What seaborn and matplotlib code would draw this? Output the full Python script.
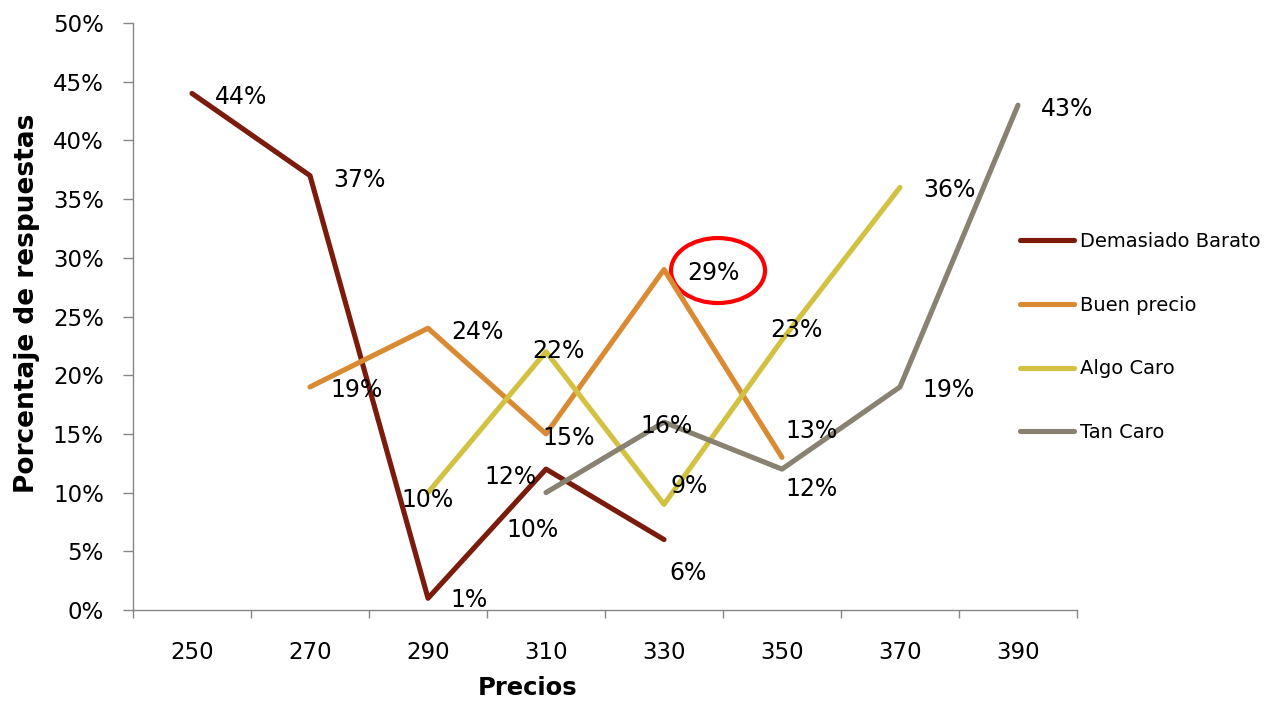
import numpy as np
import pandas as pd
import matplotlib
matplotlib.use("Agg")
import matplotlib.pyplot as plt
import matplotlib.transforms as mtransforms
from matplotlib.patches import Ellipse
from matplotlib.ticker import FuncFormatter
import seaborn as sns

# ---------------- data ----------------
precios = ["250", "270", "290", "310", "330", "350", "370", "390"]
series = ["Demasiado Barato", "Buen precio", "Algo Caro", "Tan Caro"]
demasiado_barato = [44, 37, 1, 12, 6, None, None, None]
buen_precio = [None, 19, 24, 15, 29, 13, None, None]
algo_caro = [None, None, 10, 22, 9, 23, 36, None]
tan_caro = [None, None, None, 10, 16, 12, 19, 43]
valores = [demasiado_barato, buen_precio, algo_caro, tan_caro]
colores = ["#7B1B0C", "#D98A32", "#D3C142", "#8A8270"]

# label placement (pixel offsets from each point: dx right, dy down)
label_offsets = [
    [(49, 1), (49, 1), (41, -1), (-35, 5), (24, 30), None, None, None],
    [None, (47, 0), (49, 1), (23, 1), (49, 0), (30, -29), None, None],
    [None, None, (0, 4), (12, -4), (25, -21), (14, -13), (49, 0), None],
    [None, None, None, (-13, 34), (3, 1), (30, 17), (49, 0), (49, 1)],
]
highlight = (1, 4)  # Buen precio at 330 -> circled label

rows = []
for s, vals in zip(series, valores):
    for i, v in enumerate(vals):
        if v is not None:
            rows.append({"serie": s, "pos": i, "precio": precios[i], "valor": v})
df = pd.DataFrame(rows)

# ---------------- plot ----------------
sns.set_style("white")
plt.rcParams["font.family"] = ["DejaVu Sans"]
plt.rcParams["text.color"] = "black"
plt.rcParams["axes.labelcolor"] = "black"
plt.rcParams["xtick.color"] = "black"
plt.rcParams["ytick.color"] = "black"

fig = plt.figure(figsize=(12.81, 7.08), dpi=100)
ax = fig.add_axes([133 / 1281, 1 - 610 / 708, 944 / 1281, 587 / 708])

sns.lineplot(data=df, x="pos", y="valor", hue="serie", hue_order=series,
             palette=dict(zip(series, colores)), sort=False, estimator=None,
             linewidth=3.7, legend=False, ax=ax)
for ln in ax.lines:
    ln.set_solid_capstyle("round")
    ln.set_solid_joinstyle("round")

ax.set_xlim(-0.5, len(precios) - 0.5)
ax.set_ylim(0, 50)

ax.set_xticks(range(len(precios)))
ax.set_xticklabels(precios)
ax.set_xticks(np.arange(-0.5, len(precios), 1), minor=True)
ax.set_yticks(np.arange(0, 51, 5))
ax.yaxis.set_major_formatter(FuncFormatter(lambda v, p: f"{v:.0f}%"))

gray = "#868686"
ax.tick_params(axis="x", which="major", length=0, pad=22, labelsize=16.5)
ax.tick_params(axis="x", which="minor", length=6, width=1, color=gray,
               direction="out", bottom=True)
ax.tick_params(axis="y", which="major", length=7, width=1, color=gray,
               direction="out", pad=14, labelsize=16.5, left=True)

for side in ["top", "right"]:
    ax.spines[side].set_visible(False)
for side in ["left", "bottom"]:
    ax.spines[side].set_color(gray)
    ax.spines[side].set_linewidth(1)

ax.set_xlabel("Precios", fontsize=17.5, fontweight="bold")
ax.set_ylabel("Porcentaje de respuestas", fontsize=19, fontweight="bold")
ax.xaxis.set_label_coords((528 - 133) / 944, -0.112)
ax.yaxis.set_label_coords((40 - 133) / 944, 0.523)

# data labels
for si, (vals, offs) in enumerate(zip(valores, label_offsets)):
    for i, (v, o) in enumerate(zip(vals, offs)):
        if v is None:
            continue
        ax.annotate(f"{v}%", xy=(i, v), xytext=(o[0], -(o[1] + 3)),
                    textcoords="offset pixels", ha="center", va="center",
                    fontsize=17, color="black")

# red ellipse highlighting the 29% label
si, i = highlight
trans = mtransforms.Affine2D().translate(54, -1) + \
    mtransforms.ScaledTranslation(i, valores[si][i], ax.transData)
ax.add_patch(Ellipse((0, 0), width=94, height=65, transform=trans,
                     fill=False, edgecolor="#FF0000", linewidth=3, clip_on=False))

# legend
fig.legend(ax.lines[:len(series)], series, loc="center left",
           bbox_to_anchor=(1020 / 1281, 1 - 337 / 708), frameon=False, fontsize=14,
           handlelength=2.8, handletextpad=0.3, labelspacing=2.3,
           borderpad=0, borderaxespad=0)

fig.savefig("out.png", dpi=100)
